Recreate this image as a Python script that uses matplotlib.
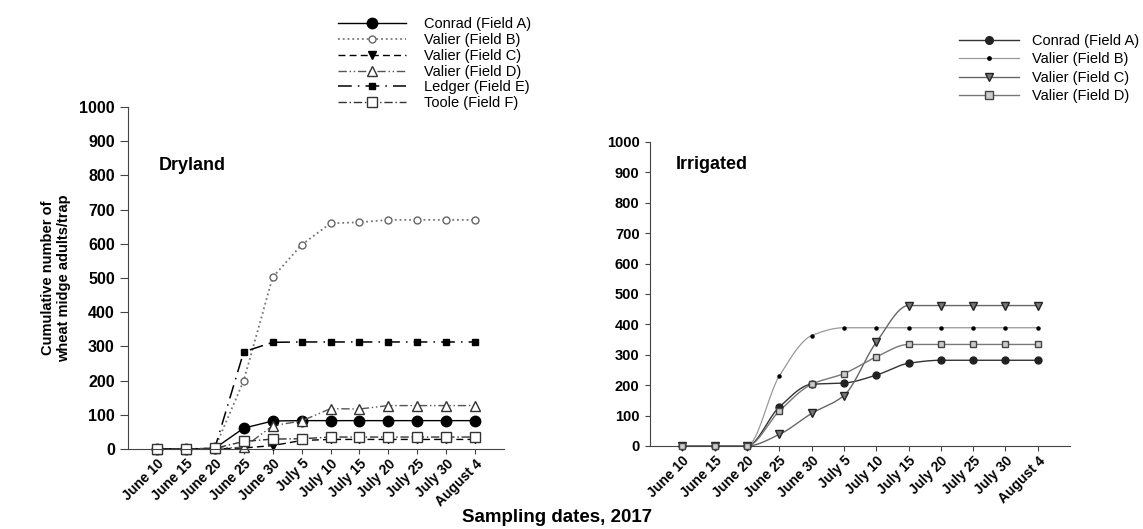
import numpy as np
import matplotlib.pyplot as plt
from matplotlib.lines import Line2D

plt.rcParams['font.family'] = ['Liberation Sans', 'DejaVu Sans']

dates = ["June 10", "June 15", "June 20", "June 25", "June 30", "July 5",
         "July 10", "July 15", "July 20", "July 25", "July 30", "August 4"]

# Dryland
dry_conrad_a = [0, 0, 2, 61, 82, 83, 83, 83, 83, 83, 83, 83]
dry_valier_b = [0, 0, 2, 200, 502, 597, 660, 663, 670, 670, 670, 670]
dry_valier_c = [0, 0, 0, 3, 10, 25, 28, 28, 28, 28, 28, 28]
dry_valier_d = [0, 0, 2, 5, 68, 82, 118, 117, 127, 127, 127, 127]
dry_ledger_e = [0, 0, 2, 284, 312, 313, 313, 313, 313, 313, 313, 313]
dry_toole_f = [0, 0, 2, 22, 29, 30, 35, 35, 35, 35, 35, 35]

# Irrigated
irr_conrad_a = [0, 0, 0, 128, 203, 207, 233, 272, 282, 282, 282, 282]
irr_valier_b = [0, 0, 0, 230, 363, 389, 389, 389, 389, 389, 389, 389]
irr_valier_c = [0, 0, 0, 38, 107, 166, 341, 462, 462, 462, 462, 462]
irr_valier_d = [0, 0, 0, 115, 203, 238, 293, 334, 334, 334, 334, 334]

x = np.arange(len(dates))


def smooth(xs, ys, n=20):
    # monotone cubic (Fritsch-Carlson) through the points
    xs = np.asarray(xs, float)
    ys = np.asarray(ys, float)
    h = np.diff(xs)
    d = np.diff(ys) / h
    m = np.zeros_like(ys)
    m[0], m[-1] = d[0], d[-1]
    for i in range(1, len(ys) - 1):
        if d[i - 1] * d[i] > 0:
            m[i] = 2 / (1 / d[i - 1] + 1 / d[i])
    ox, oy = [], []
    t = np.linspace(0, 1, n, endpoint=False)
    for i in range(len(xs) - 1):
        h00 = 2 * t ** 3 - 3 * t ** 2 + 1
        h10 = t ** 3 - 2 * t ** 2 + t
        h01 = -2 * t ** 3 + 3 * t ** 2
        h11 = t ** 3 - t ** 2
        ox.extend(xs[i] + t * h[i])
        oy.extend(h00 * ys[i] + h10 * h[i] * m[i] + h01 * ys[i + 1] + h11 * h[i] * m[i + 1])
    ox.append(xs[-1])
    oy.append(ys[-1])
    return np.array(ox), np.array(oy)


fig = plt.figure(figsize=(11.43, 5.29), dpi=100)
ax1 = fig.add_axes([0.1120, 0.1512, 0.329, 0.6465])
ax2 = fig.add_axes([0.5687, 0.1569, 0.3675, 0.5747])


def style(ax, yfs, xfs, ylen):
    ax.set_xlim(-1, 12)
    ax.set_ylim(0, 1000)
    ax.set_yticks(range(0, 1001, 100))
    ax.set_xticks(x)
    ax.set_xticklabels(dates, rotation=45, ha="right", rotation_mode="anchor",
                       fontsize=xfs, fontweight="bold")
    for lab in ax.get_yticklabels():
        lab.set_fontweight("bold")
        lab.set_fontsize(yfs)
    ax.spines["top"].set_visible(False)
    ax.spines["right"].set_visible(False)
    ax.spines["left"].set_color("#444444")
    ax.spines["bottom"].set_color("#444444")
    ax.tick_params(axis="y", direction="out", length=ylen, color="#444444", pad=4)
    ax.tick_params(axis="x", direction="out", length=3.5, color="#444444", pad=2)


# ---- Dryland ----
dry = [
    ("Conrad (Field A)", dry_conrad_a, dict(color="black", ls="-", lw=1.0, marker="o", ms=7.5,
                                             mfc="black", mec="black")),
    ("Valier (Field B)", dry_valier_b, dict(color="#777777", ls=":", lw=1.3, marker="o", ms=5,
                                             mfc="white", mec="#666666")),
    ("Valier (Field C)", dry_valier_c, dict(color="black", ls=(0, (5, 3)), lw=1.0, marker="v", ms=5.5,
                                             mfc="black", mec="black")),
    ("Valier (Field D)", dry_valier_d, dict(color="#555555", ls=(0, (6, 2, 1, 2, 1, 2)), lw=1.0,
                                             marker="^", ms=7, mfc="white", mec="#333333")),
    ("Ledger (Field E)", dry_ledger_e, dict(color="black", ls=(0, (9, 4, 1, 4)), lw=1.1, marker="s",
                                             ms=4, mfc="black", mec="black")),
    ("Toole (Field F)", dry_toole_f, dict(color="#333333", ls=(0, (6, 2, 1, 2)), lw=1.0, marker="s",
                                           ms=7.5, mfc="white", mec="#333333")),
]
handles1 = []
for name, vals, kw in dry:
    h, = ax1.plot(x, vals, label=name, clip_on=False, **kw)
    handles1.append(h)
style(ax1, 11.5, 10, 5.5)
ax1.text(0.05, 830, "Dryland", fontsize=13, fontweight="bold", va="center")
ax1.set_ylabel("Cumulative number of\nwheat midge adults/trap", fontsize=10.5,
               fontweight="bold", labelpad=6)

fig.legend(handles=handles1, loc="upper left", bbox_to_anchor=(0.2905, 0.978),
           frameon=False, fontsize=10.5, handlelength=4.7, handletextpad=1.2,
           labelspacing=0.12, borderaxespad=0)

# ---- Irrigated ----
irr = [
    ("Conrad (Field A)", irr_conrad_a, dict(color="#333333", lw=1.0, marker="o", ms=5,
                                             mfc="#222222", mec="#222222")),
    ("Valier (Field B)", irr_valier_b, dict(color="#999999", lw=0.9, marker="o", ms=2.2,
                                             mfc="black", mec="black")),
    ("Valier (Field C)", irr_valier_c, dict(color="#666666", lw=1.0, marker="v", ms=5.5,
                                             mfc="#777777", mec="#222222")),
    ("Valier (Field D)", irr_valier_d, dict(color="#777777", lw=1.0, marker="s", ms=5,
                                             mfc="#cccccc", mec="#444444")),
]
handles2 = []
for name, vals, kw in irr:
    sx, sy = smooth(x, vals)
    ax2.plot(sx, sy, color=kw["color"], lw=kw["lw"], clip_on=False)
    ax2.plot(x, vals, ls="none", marker=kw["marker"], ms=kw["ms"], mfc=kw["mfc"],
             mec=kw["mec"], clip_on=False, zorder=3)
    handles2.append(Line2D([], [], color=kw["color"], lw=kw["lw"], marker=kw["marker"],
                           ms=kw["ms"] * 1.1, mfc=kw["mfc"], mec=kw["mec"]))
style(ax2, 10.5, 10, 3.5)
ax2.text(-0.2, 925, "Irrigated", fontsize=13, fontweight="bold", va="center")

fig.legend(handles=handles2, labels=[n for n, _, _ in irr], loc="upper left",
           bbox_to_anchor=(0.834, 0.947), frameon=False, fontsize=10.5,
           handlelength=4.1, handletextpad=0.9, labelspacing=0.3, borderaxespad=0)

fig.text(0.487, 0.021, "Sampling dates, 2017", ha="center", va="center",
         fontsize=13.5, fontweight="bold")

fig.savefig("out.png", dpi=100)
